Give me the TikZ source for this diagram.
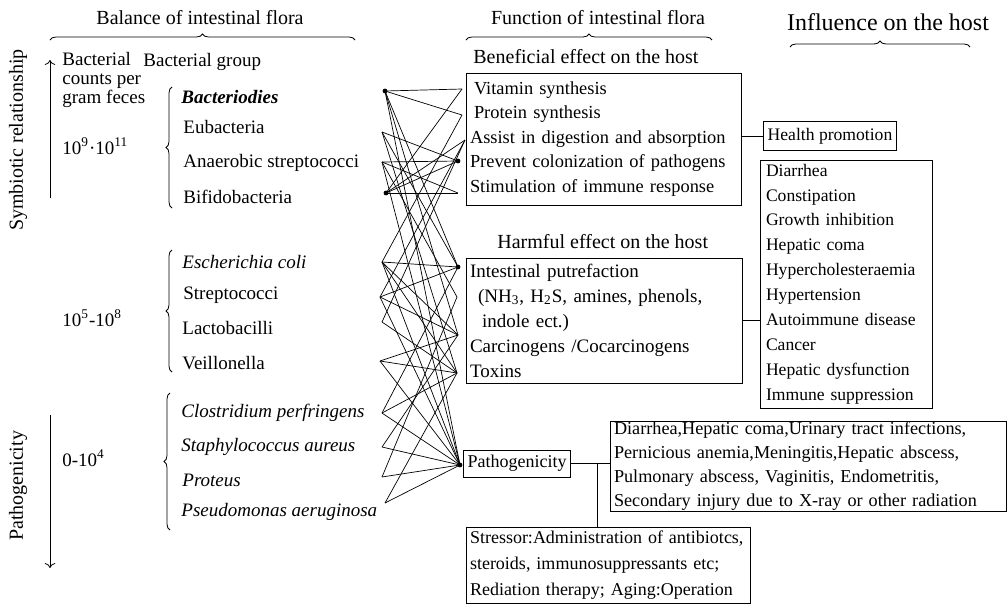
\documentclass[tikz,border=0pt]{standalone}
\usepackage{fontspec}
\setmainfont{Liberation Serif}
\usepackage{tikz}
\usetikzlibrary{arrows.meta, positioning, decorations.pathreplacing, calc}
\newcommand{\figfont}{\fontsize{9.5}{11}\selectfont}
\newcommand{\ttlfont}{\fontsize{10}{12}\selectfont}
\hyphenpenalty=10000
\exhyphenpenalty=10000

\begin{document}
\begin{tikzpicture}[x=0.5pt, y=-0.5pt,
      every node/.style={font=\figfont},
      lbl/.style={anchor=west, inner sep=0pt},
      ttl/.style={inner sep=0pt, font=\ttlfont},
      box/.style={rectangle, draw, inner xsep=2pt, inner ysep=0pt, align=left},
      brc/.style={decorate, decoration={brace, amplitude=3pt}},
      link/.style={line width=0.35pt},
      dot/.style={circle, fill, inner sep=0pt, minimum size=2.4pt}]
      \useasboundingbox (0,0) rectangle (1008,606);

      % Titles and braces
      \node[ttl] (tbal) at (200,18) {Balance of intestinal flora};
      \node[ttl] (tfun) at (598,18) {Function of intestinal flora};
      \node[ttl, font=\fontsize{12}{14}\selectfont] (tinf) at (888,22) {Influence on the host};
      \draw[brc] (50,40) -- (355,40);
      \draw[brc] (466,40) -- (712,40);
      \draw[brc] (790,47) -- (970,47);

      % Axis on the left
      \node[rotate=90, inner sep=0pt, font=\ttlfont] (sym) at (18,140) {Symbiotic relationship};
      \node[rotate=90, inner sep=0pt, font=\ttlfont] (pat) at (18,486) {Pathogenicity};
      \coordinate (ax1) at (50,60);
      \coordinate (ax2) at (50,198);
      \coordinate (ax3) at (50,415);
      \coordinate (ax4) at (50,568);
      \draw[->] (ax2) -- (ax1);
      \draw[->] (ax3) -- (ax4);

      % Bacterial counts
      \node[lbl, align=left, font=\fontsize{9.5}{9.5}\selectfont] (cnt) at (62,80) {Bacterial\\counts per\\gram feces};
      \node[lbl] (grp) at (143,62) {Bacterial group};
      \node[lbl] (n1) at (62,146) {10\textsuperscript{9}·10\textsuperscript{11}};
      \node[lbl] (n2) at (62,318) {10\textsuperscript{5}-10\textsuperscript{8}};
      \node[lbl] (n3) at (62,458) {0-10\textsuperscript{4}};

      % Bacterial groups
      \node[lbl] (bact) at (181,97) {\textbf{\textit{Bacteriodies}}};
      \node[lbl] (eub) at (183,127) {Eubacteria};
      \node[lbl] (anae) at (183,163) {Anaerobic streptococci};
      \node[lbl] (bifi) at (183,197) {Bifidobacteria};
      \node[lbl] (ecol) at (182,262) {\textit{Escherichia coli}};
      \node[lbl] (strp) at (183,295) {Streptococci};
      \node[lbl] (lact) at (182,328) {Lactobacilli};
      \node[lbl] (veil) at (182,363) {Veillonella};
      \node[lbl] (clos) at (181,413) {\textit{Clostridium perfringens}};
      \node[lbl] (stap) at (181,447) {\textit{Staphylococcus aureus}};
      \node[lbl] (prot) at (182,480) {\textit{Proteus}};
      \node[lbl] (pseu) at (181,512) {\textit{Pseudomonas aeruginosa}};
      \draw[brc] (172,208) -- (172,87);
      \draw[brc] (172,372) -- (172,250);
      \draw[brc] (170,530) -- (170,393);

      % Function boxes
      \node[lbl, font=\ttlfont] (hben) at (473,57) {Beneficial effect on the host};
      \node[box, text width=133.5pt, minimum height=66pt, font=\fontsize{9.2}{12.25}\selectfont] (ben) at (603.5,139)
        {\hspace*{2pt}Vitamin synthesis\\\hspace*{2pt}Protein synthesis\\Assist in digestion and absorption\\Prevent colonization of pathogens\\Stimulation of immune response};
      \node[lbl, font=\ttlfont] (hhar) at (497,242) {Harmful effect on the host};
      \node[box, text width=134pt, minimum height=62.5pt, font=\fontsize{9.5}{12.5}\selectfont] (har) at (604,320.5)
        {Intestinal putrefaction\\\hspace*{4pt}(NH\textsubscript{3}, H\textsubscript{2}S, amines, phenols,\\\hspace*{6pt}indole ect.)\\Carcinogens /Cocarcinogens\\Toxins};
      \node[box, minimum width=51pt, minimum height=13.5pt, font=\fontsize{9}{11}\selectfont] (pgn) at (517,463.5) {Pathogenicity};
      \node[box, text width=138pt, minimum height=38pt, font=\fontsize{9}{13}\selectfont] (str) at (608,565)
        {Stressor:Administration of antibiotcs,\\steroids, immunosuppressants etc;\\Rediation therapy; Aging:Operation};

      % Influence boxes
      \node[box, minimum width=64pt, minimum height=14.5pt, font=\fontsize{8.8}{11}\selectfont] (hlt) at (830,136) {Health promotion};
      \node[box, text width=80pt, minimum height=124pt, inner xsep=3pt, font=\fontsize{8.8}{12.45}\selectfont] (dis) at (846,284)
        {Diarrhea\\Constipation\\Growth inhibition\\Hepatic coma\\Hypercholesteraemia\\Hypertension\\Autoimmune disease\\Cancer\\Hepatic dysfunction\\Immune suppression};
      \node[box, text width=194pt, minimum height=45pt, font=\fontsize{9.1}{11.9}\selectfont] (sym2) at (808,466)
        {Diarrhea,Hepatic coma,Urinary tract infections,\\Pernicious anemia,Meningitis,Hepatic abscess,\\Pulmonary abscess, Vaginitis, Endometritis,\\Secondary injury due to X-ray or other radiation};

      % Box connectors
      \draw (hlt.west) -- (hlt.west -| ben.east);
      \draw (har.east) -- (har.east -| dis.west);
      \draw (pgn.east) -- (pgn.east -| sym2.west);
      \coordinate (pj) at (597,463.5);
      \draw (pj) -- (pj |- str.north);

      % Crossing links: bacteria to functions
      \coordinate (L1) at (385,91);
      \coordinate (L2) at (382,132);
      \coordinate (L3) at (382,162);
      \coordinate (L4) at (386,193);
      \coordinate (L5) at (382,262);
      \coordinate (L6) at (380,297);
      \coordinate (L7) at (382,322);
      \coordinate (L8) at (380,361);
      \coordinate (L9) at (382,413);
      \coordinate (L10) at (382,447);
      \coordinate (L11) at (382,477);
      \coordinate (L12) at (385,503);
      \coordinate (R1) at (462,89);
      \coordinate (R2) at (462,115);
      \coordinate (R3) at (465,140);
      \coordinate (R4) at (458,161);
      \coordinate (R5) at (458,193);
      \coordinate (R6) at (458,267);
      \coordinate (R7) at (457,297);
      \coordinate (R8) at (458,335);
      \coordinate (R9) at (457,373);
      \coordinate (R10) at (460,465);
      \foreach \a/\b in {1/1,1/2,1/6,1/8,1/10, 2/4,2/6,2/9, 3/4,3/5,3/7,3/10,
                         4/1,4/3,4/4,4/5, 5/2,5/6,5/8,5/9,5/10, 6/3,6/6,6/8,6/10,
                         7/3,7/9, 8/8,8/9,8/10, 9/6,9/9,9/10, 10/8,10/10,
                         11/7,11/10, 12/9,12/10}
        \draw[link] (L\a) -- (R\b);
      \foreach \p in {L1,L4,R4,R6,R10}
        \node[dot] at (\p) {};
\end{tikzpicture}
\end{document}
